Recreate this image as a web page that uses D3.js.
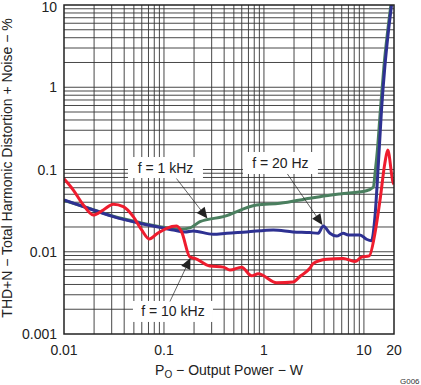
<!DOCTYPE html>
<html>
<head>
<meta charset="utf-8">
<script src="https://cdn.jsdelivr.net/npm/d3@7"></script>
<style>
  body { margin: 0; background: #fff; }
  svg { display: block; font-family: "Liberation Sans", Arial, sans-serif; }
</style>
</head>
<body>
<script>
// series: output power (W) and THD+N (%)
const power20Hz = [0.01, 0.0196, 0.0311, 0.0575, 0.0912, 0.124, 0.162, 0.196, 0.311, 0.424, 0.671, 1.24, 1.96, 2.88, 3.49, 3.92, 4.57, 5.33, 6.21, 6.97, 9.12, 10.6, 11.9, 12.9, 13.9, 15.0, 16.2, 17.5, 18.9];
const thd20Hz = [0.0426, 0.0322, 0.0267, 0.0222, 0.0198, 0.0184, 0.0174, 0.0179, 0.0163, 0.0168, 0.0174, 0.0184, 0.0174, 0.0171, 0.0168, 0.0206, 0.0168, 0.0155, 0.0168, 0.016, 0.016, 0.0142, 0.0136, 0.0267, 0.108, 0.529, 1.78, 4.53, 10];

const power1kHz = [0.01, 0.0196, 0.0311, 0.0575, 0.0912, 0.124, 0.145, 0.182, 0.229, 0.392, 0.845, 1.445, 2.88, 3.63, 5.75, 10.6, 12.4, 13.03, 13.65, 14.62, 15.85, 17.18, 18.62];
const thd1kHz = [0.042, 0.0325, 0.027, 0.0226, 0.0202, 0.019, 0.0188, 0.0195, 0.0232, 0.0267, 0.037, 0.0388, 0.0447, 0.0467, 0.0504, 0.0552, 0.0608, 0.0986, 0.173, 0.529, 1.78, 4.53, 10];

const power10kHz = [0.01, 0.0124, 0.0156, 0.0196, 0.0247, 0.0311, 0.0392, 0.0493, 0.0598, 0.0713, 0.0845, 0.106, 0.134, 0.150, 0.182, 0.204, 0.288, 0.392, 0.457, 0.598, 0.753, 0.877, 1.34, 1.96, 2.29, 2.88, 3.11, 4.24, 6.21, 8.13, 9.48, 11.3, 12.9, 14.5, 16.2, 17.3, 19.6, 20];
const thd10kHz = [0.077, 0.0563, 0.037, 0.028, 0.0322, 0.0378, 0.0353, 0.0267, 0.0184, 0.0143, 0.0164, 0.0193, 0.0206, 0.0175, 0.0086, 0.0083, 0.0067, 0.0065, 0.006, 0.0065, 0.0051, 0.0054, 0.0042, 0.0043, 0.005, 0.0063, 0.0072, 0.0081, 0.0083, 0.0076, 0.0086, 0.0089, 0.0168, 0.0426, 0.119, 0.173, 0.069, 0.066];

const xTicks = [0.01, 0.1, 1, 10, 20];
const xTickLabels = ['0.01', '0.1', '1', '10', '20'];
const yTicks = [0.001, 0.01, 0.1, 1, 10];
const yTickLabels = ['0.001', '0.01', '0.1', '1', '10'];

const width = 421, height = 385;
const plotLeft = 64, plotRight = 394, plotTop = 5, plotBottom = 334;

const x = d3.scaleLog().domain([0.01, 20]).range([plotLeft, plotRight]);
const y = d3.scaleLog().domain([0.001, 10]).range([plotBottom, plotTop]);

const svg = d3.select('body').append('svg')
    .attr('width', width)
    .attr('height', height);

// grid
const xGrid = [];
for (let d = 0.01; d < 20; d *= 10) {
    for (let k = 1; k <= 9; k++) {
        const v = d * k;
        if (v > 0.0101 && v < 19.9) xGrid.push(v);
    }
}
const yGrid = [];
for (let d = 0.001; d < 10; d *= 10) {
    for (let k = 1; k <= 9; k++) {
        const v = d * k;
        if (v > 0.00101 && v < 9.9) yGrid.push(v);
    }
}
const grid = svg.append('g').attr('class', 'grid')
    .attr('stroke', '#333').attr('stroke-width', 0.9);
grid.selectAll('.gx').data(xGrid).enter().append('line')
    .attr('x1', d => x(d)).attr('x2', d => x(d))
    .attr('y1', plotTop).attr('y2', plotBottom);
grid.selectAll('.gy').data(yGrid).enter().append('line')
    .attr('y1', d => y(d)).attr('y2', d => y(d))
    .attr('x1', plotLeft).attr('x2', plotRight);

// curves
const line = d3.line()
    .x(d => x(d[0]))
    .y(d => y(d[1]))
    .curve(d3.curveMonotoneX);

const series = [
    { p: power1kHz, t: thd1kHz, color: '#4a7f5f' },
    { p: power20Hz, t: thd20Hz, color: '#2e3192' },
    { p: power10kHz, t: thd10kHz, color: '#ee1c2e' }
];
svg.append('defs').append('clipPath').attr('id', 'plot')
    .append('rect').attr('x', plotLeft).attr('y', plotTop)
    .attr('width', plotRight - plotLeft).attr('height', plotBottom - plotTop);
svg.append('g').attr('clip-path', 'url(#plot)')
    .selectAll('.curve')
    .data(series)
    .enter().append('path')
    .attr('class', 'curve')
    .attr('d', s => line(s.p.map((v, i) => [v, s.t[i]])))
    .attr('fill', 'none')
    .attr('stroke', s => s.color)
    .attr('stroke-width', 3)
    .attr('stroke-linejoin', 'round');

// frame
svg.append('rect')
    .attr('x', plotLeft).attr('y', plotTop)
    .attr('width', plotRight - plotLeft).attr('height', plotBottom - plotTop)
    .attr('fill', 'none').attr('stroke', '#222').attr('stroke-width', 1.5);

// annotations: label centre and arrow tip in data units, arrow start offset from label centre
const notes = [
    { text: 'f = 1 kHz', lx: 0.1035, ly: 0.1057, w: 75, h: 21, sx: 11, sy: 11, tx: 0.272, ty: 0.0253 },
    { text: 'f = 20 Hz', lx: 1.462, ly: 0.12, w: 75, h: 22, sx: 7, sy: 11, tx: 3.85, ty: 0.0211 },
    { text: 'f = 10 kHz', lx: 0.123, ly: 0.00188, w: 80, h: 21, sx: -3, sy: -10, tx: 0.184, ty: 0.0084 }
];
const ann = svg.append('g').attr('class', 'notes');
notes.forEach(n => {
    const cx = x(n.lx), cy = y(n.ly);
    ann.append('rect')
        .attr('x', cx - n.w / 2).attr('y', cy - n.h / 2)
        .attr('width', n.w).attr('height', n.h)
        .attr('fill', '#fff');
    ann.append('text')
        .attr('x', cx).attr('y', cy + 5)
        .attr('text-anchor', 'middle')
        .attr('font-size', 14).attr('fill', '#222')
        .text(n.text);
    const x0 = cx + n.sx, y0 = cy + n.sy;
    const x1 = x(n.tx), y1 = y(n.ty);
    const a = Math.atan2(y1 - y0, x1 - x0);
    const len = 11, hw = 5;
    const bx = x1 - len * Math.cos(a), by = y1 - len * Math.sin(a);
    ann.append('line')
        .attr('x1', x0).attr('y1', y0).attr('x2', bx).attr('y2', by)
        .attr('stroke', '#222').attr('stroke-width', 0.7);
    ann.append('path')
        .attr('d', `M${x1},${y1}L${bx - hw * Math.sin(a)},${by + hw * Math.cos(a)}L${bx + hw * Math.sin(a)},${by - hw * Math.cos(a)}Z`)
        .attr('fill', '#222');
});

// tick labels
svg.append('g').selectAll('text').data(xTicks).enter().append('text')
    .attr('x', d => x(d)).attr('y', 355)
    .attr('text-anchor', 'middle').attr('font-size', 14).attr('fill', '#222')
    .text((d, i) => xTickLabels[i]);
svg.append('g').selectAll('text').data(yTicks).enter().append('text')
    .attr('x', 57).attr('y', d => Math.max(y(d) + 5, 12))
    .attr('text-anchor', 'end').attr('font-size', 14).attr('fill', '#222')
    .text((d, i) => yTickLabels[i]);

// axis titles
const xt = svg.append('text')
    .attr('x', 229).attr('y', 375)
    .attr('text-anchor', 'middle').attr('font-size', 14).attr('fill', '#222');
xt.append('tspan').text('P');
xt.append('tspan').attr('font-size', 10).attr('dy', 3).text('O');
xt.append('tspan').attr('dy', -3).text(' \u2212 Output Power \u2212 W');

svg.append('text')
    .attr('transform', 'translate(12,168) rotate(-90)')
    .attr('text-anchor', 'middle').attr('font-size', 14).attr('fill', '#222')
    .text('THD+N \u2212 Total Harmonic Distortion + Noise \u2212 %');

svg.append('text')
    .attr('x', 400).attr('y', 384)
    .attr('font-size', 8).attr('fill', '#333')
    .text('G006');
</script>
</body>
</html>
